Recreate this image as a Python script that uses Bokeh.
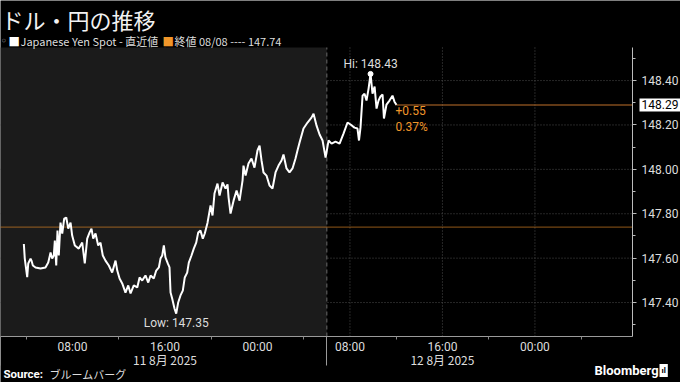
from bokeh.plotting import figure
from bokeh.models import (Range1d, FixedTicker, LinearAxis, Label, BoxAnnotation,
                          NumeralTickFormatter)
from bokeh.embed import file_html
from bokeh.resources import INLINE

# ---------------- data ----------------
title_text = "ドル・円の推移"
series_name = "Japanese Yen Spot - 直近値"
prev_close_text = "終値 08/08 ---- 147.74"
source_label = "Source:"
source_name = "ブルームバーグ"
brand = "Bloomberg"

# hours since 2025-08-11 00:00
hours = [3.79, 3.87, 4.08, 4.17, 4.37, 4.45, 4.57, 4.80, 5.23, 5.66, 5.90, 6.10, 6.24,
         6.38, 6.47, 6.59, 6.70, 6.81, 6.96, 7.11, 7.28, 7.46, 7.63, 7.83, 7.97, 8.20,
         8.54, 8.84, 9.06, 9.27, 9.47, 9.64, 9.79, 9.99, 10.22, 10.42, 10.62, 10.85,
         11.14, 11.43, 11.72, 11.87, 12.07, 12.30, 12.58, 12.82, 13.02, 13.30, 13.60,
         13.80, 14.03, 14.31, 14.55, 14.75, 15.03, 15.24, 15.47, 15.61, 15.76, 15.90,
         16.04, 16.24, 16.39, 16.48, 16.62, 16.82, 16.97, 17.14, 17.34, 17.54, 17.71,
         17.92, 18.06, 18.29, 18.49, 18.70, 18.87, 19.07, 19.27, 19.44,
         19.68, 19.94, 20.11, 20.28, 20.54, 20.72, 20.98, 21.24, 21.41, 21.50, 21.67,
         21.93, 22.19, 22.45, 22.71, 22.79, 22.97, 23.22, 23.48, 23.74, 24.00, 24.18,
         24.35, 24.52, 24.78, 25.04, 25.30, 25.56, 25.82, 26.08, 26.25, 26.51, 26.77,
         27.03, 27.29, 27.46, 27.64, 27.98, 28.33, 28.67, 28.85, 29.11, 29.37, 29.63,
         29.89, 30.15, 30.41, 30.75, 31.10, 31.44, 31.79, 32.05, 32.39, 32.65, 32.78,
         32.91, 33.09, 33.26, 33.43, 33.61, 33.78, 33.95, 34.13, 34.30, 34.47, 34.64,
         34.82, 34.94, 35.16, 35.42, 35.68, 35.85, 36.03]
usdjpy = [147.664, 147.598, 147.514, 147.576, 147.598, 147.589, 147.567, 147.558, 147.553,
          147.558, 147.580, 147.625, 147.598, 147.612, 147.679, 147.567, 147.724, 147.612,
          147.760, 147.711, 147.778, 147.783, 147.733, 147.760, 147.702, 147.657, 147.643,
          147.670, 147.576, 147.688, 147.715, 147.733, 147.688, 147.711, 147.657, 147.670,
          147.612, 147.589, 147.567, 147.535, 147.589, 147.544, 147.508, 147.486, 147.445,
          147.477, 147.441, 147.477, 147.468, 147.513, 147.499, 147.522, 147.490, 147.522,
          147.508, 147.544, 147.558, 147.598, 147.612, 147.657, 147.603, 147.576, 147.558,
          147.445, 147.418, 147.373, 147.350, 147.400, 147.432, 147.454, 147.513, 147.535,
          147.580, 147.612, 147.643, 147.670, 147.715, 147.724, 147.688, 147.711,
          147.760, 147.837, 147.792, 147.891, 147.936, 147.882, 147.941, 147.914, 147.932,
          147.873, 147.801, 147.859, 147.905, 147.859, 147.950, 148.017, 147.972, 148.026,
          148.049, 148.008, 148.085, 148.107, 148.040, 147.986, 147.972, 147.927, 147.914,
          147.986, 148.017, 148.040, 148.067, 148.004, 147.986, 148.004, 148.049, 148.085,
          148.121, 148.184, 148.211, 148.233, 148.251, 148.197, 148.157, 148.130, 148.053,
          148.130, 148.116, 148.125, 148.116, 148.161, 148.211, 148.202, 148.188, 148.184,
          148.130, 148.188, 148.332, 148.341, 148.310, 148.364, 148.430, 148.341, 148.373,
          148.274, 148.310, 148.328, 148.337, 148.229, 148.292, 148.310, 148.332, 148.305,
          148.290]

prev_close = 147.74
change_text = "+0.55"
change_pct_text = "0.37%"

time_ticks = [8, 16, 24, 32, 40, 48]
time_labels = ["08:00", "16:00", "00:00", "08:00", "16:00", "00:00"]
time_minor_ticks = [4, 12, 20, 28, 36, 44, 52]
date_ticks = [16, 40]
date_labels = ["11 8月 2025", "12 8月 2025"]
day_breaks = [1.77, 30]

y_ticks = [147.4, 147.6, 147.8, 148.0, 148.2, 148.4]
y_minor_ticks = [147.3, 147.5, 147.7, 147.9, 148.1, 148.3, 148.5]

# ---------------- layout / styling ----------------
ORANGE = "#f0962a"
TXT = "#dddddd"
GRID = "#4d4d4d"
LATIN = "Roboto"
CJK = "Noto Sans CJK JP"

W, H = 680, 382
# plot area (data bounds) inside the full-canvas frame
XLO, XHI = 1.77, 56.44
YLO, YHI = 147.247, 148.549
PX_X = 632 / (XHI - XLO)          # pixels per hour
PX_Y = 289 / (YHI - YLO)          # pixels per yen
x_full = (XLO, XLO + W / PX_X)
y_full = (YLO - 46 / PX_Y, YHI + 47 / PX_Y)

p = figure(width=W, height=H, output_backend="svg", toolbar_location=None,
           x_range=Range1d(*x_full), y_range=Range1d(*y_full),
           x_axis_location=None, y_axis_location=None, min_border=0)
p.title.visible = False
p.background_fill_color = "black"
p.border_fill_color = "black"
p.outline_line_color = None
p.xgrid.visible = False
p.ygrid.visible = False

# shaded first session
p.add_layout(BoxAnnotation(left=XLO, right=day_breaks[1], bottom=YLO, top=YHI,
                           fill_color="#1b1b1b", fill_alpha=1, line_color=None,
                           level="underlay"))

# grid lines (limited to the plot area)
p.segment(x0=time_ticks, y0=[YLO] * len(time_ticks), x1=time_ticks, y1=[YHI] * len(time_ticks),
          line_color=GRID, line_dash="1 2", line_width=1, level="underlay")
p.segment(x0=[XLO] * len(y_ticks), y0=y_ticks, x1=[XHI] * len(y_ticks), y1=y_ticks,
          line_color=GRID, line_dash="1 2", line_width=1, level="underlay")
p.segment(x0=[day_breaks[1]], y0=[YLO], x1=[day_breaks[1]], y1=[YHI],
          line_color="#6a6a6a", line_dash="4 3", line_width=1)

# x axis (times)
xa = LinearAxis(fixed_location=YLO, bounds=(XLO, XHI),
                ticker=FixedTicker(ticks=time_ticks, minor_ticks=time_minor_ticks))
xa.major_label_overrides = {t: l for t, l in zip(time_ticks, time_labels)}
xa.major_tick_in = 0
xa.major_tick_out = 0
xa.minor_tick_in = 0
xa.minor_tick_out = 3
xa.minor_tick_line_color = "#888888"
xa.axis_line_color = "#9a9a9a"
xa.major_label_text_color = TXT
xa.major_label_text_font = LATIN
xa.major_label_text_font_size = "12px"
xa.major_label_standoff = 0
p.add_layout(xa, "below")

# day separators
sa = LinearAxis(fixed_location=YLO, bounds=(XLO - 0.05, XHI),
                ticker=FixedTicker(ticks=[], minor_ticks=day_breaks))
sa.major_tick_in = 0
sa.major_tick_out = 0
sa.minor_tick_in = 0
sa.minor_tick_out = 29
sa.minor_tick_line_color = "#9a9a9a"
sa.axis_line_color = None
sa.major_label_text_font_size = "0px"
p.add_layout(sa, "below")

# date axis
da = LinearAxis(fixed_location=YLO, bounds=(XLO, XHI),
                ticker=FixedTicker(ticks=date_ticks, minor_ticks=[]))
da.major_label_overrides = {t: l for t, l in zip(date_ticks, date_labels)}
da.major_tick_in = 0
da.major_tick_out = 0
da.minor_tick_in = 0
da.minor_tick_out = 0
da.axis_line_color = None
da.major_label_text_color = TXT
da.major_label_text_font = CJK
da.major_label_text_font_size = "12px"
da.major_label_standoff = 14
p.add_layout(da, "below")

# y axis
ya = LinearAxis(fixed_location=XHI, bounds=(YLO, YHI),
                ticker=FixedTicker(ticks=y_ticks, minor_ticks=y_minor_ticks))
ya.formatter = NumeralTickFormatter(format="0.00")
ya.axis_line_color = "#bbbbbb"
ya.major_tick_line_color = "#bbbbbb"
ya.minor_tick_line_color = "#bbbbbb"
ya.major_tick_in = 0
ya.major_tick_out = 4
ya.minor_tick_in = 0
ya.minor_tick_out = 3
ya.major_label_text_color = TXT
ya.major_label_text_font = LATIN
ya.major_label_text_font_size = "12px"
ya.major_label_standoff = 5
p.add_layout(ya, "right")

# previous close
p.segment(x0=[XLO], y0=[prev_close], x1=[XHI], y1=[prev_close],
          line_color="#e88a26", line_dash="1 1", line_width=1.2)

# series
p.line(hours, usdjpy, line_color="white", line_width=2)
last_h, last_v = hours[-1], usdjpy[-1]
p.segment(x0=[last_h], y0=[last_v], x1=[XHI], y1=[last_v], line_color="#c0702a",
          line_width=1.2)

hi_i = usdjpy.index(max(usdjpy))
lo_i = usdjpy.index(min(usdjpy))
p.scatter([hours[hi_i]], [usdjpy[hi_i]], size=5, color="white")

p.add_layout(Label(x=hours[hi_i], y=usdjpy[hi_i], text=f"Hi: {usdjpy[hi_i]:.2f}",
                   text_align="center", text_baseline="bottom", y_offset=3,
                   text_color=TXT, text_font=LATIN, text_font_size="12px"))
p.add_layout(Label(x=hours[lo_i], y=usdjpy[lo_i], text=f"Low: {usdjpy[lo_i]:.2f}",
                   text_align="center", text_baseline="top", y_offset=-2,
                   text_color=TXT, text_font=LATIN, text_font_size="12px"))
p.add_layout(Label(x=last_h, y=last_v, text=change_text, text_align="left",
                   text_baseline="top", y_offset=-1, x_offset=-1,
                   text_color=ORANGE, text_font=LATIN, text_font_size="12px"))
p.add_layout(Label(x=last_h, y=last_v, text=change_pct_text, text_align="left",
                   text_baseline="top", y_offset=-15, x_offset=-1,
                   text_color=ORANGE, text_font=LATIN, text_font_size="12px"))

# last value box on the axis
p.add_layout(Label(x=XHI, y=last_v, x_offset=7, text=f"{last_v:.2f}",
                   text_align="left", text_baseline="middle",
                   text_color="black", text_font=LATIN, text_font_size="12px",
                   background_fill_color="white", padding=2))


# header / footer (screen coords: x from left, y up from bottom)
def scr(y):
    return H - y


def txt(x, y, s, color=TXT, font=CJK, size="11px", style="normal", **kw):
    p.add_layout(Label(x=x, y=scr(y), x_units="screen", y_units="screen", text=s,
                       text_baseline="middle", text_color=color, text_font=font,
                       text_font_size=size, text_font_style=style, **kw))


txt(1, 18, title_text, color="#f2f2f2", size="22px")
txt(0, 40, "◦", color="#999999", font="DejaVu Sans", size="12px")
txt(8, 40, "■", color="white", font="DejaVu Sans", size="12px")
txt(20, 40, series_name)
txt(162, 40, "■", color=ORANGE, font="DejaVu Sans", size="12px")
txt(174, 40, prev_close_text)
txt(3, 373, source_label, color="white", font=LATIN, style="bold", size="11.5px")
txt(49, 373, source_name, size="11px")
txt(594, 370, brand, color="white", font=LATIN, size="13px", style="bold")
txt(659, 370, "ıl", color="black", font=LATIN, size="8px", style="bold",
    background_fill_color="white", padding=2)

open("out.html", "w").write(file_html(p, INLINE))
